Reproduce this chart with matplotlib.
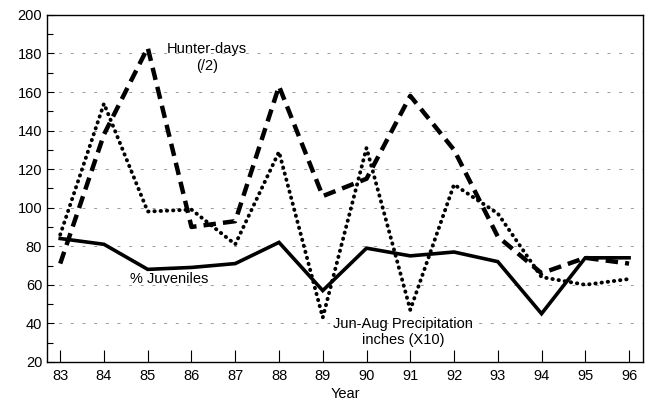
import numpy as np
import matplotlib.pyplot as plt

plt.rcParams['font.family'] = ['Liberation Sans', 'DejaVu Sans']

years = [83, 84, 85, 86, 87, 88, 89, 90, 91, 92, 93, 94, 95, 96]
juveniles = [84, 81, 68, 69, 71, 82, 57, 79, 75, 77, 72, 45, 74, 74]
hunter_days = [71, 138, 183, 90, 93, 163, 106, 115, 158, 130, 85, 66, 74, 71]
precip = [86, 154, 98, 99, 81, 129, 43, 131, 47, 112, 97, 64, 60, 63]
year_labels = [str(y) for y in years]

fig = plt.figure(figsize=(6.45, 4.03), dpi=100)
ax = fig.add_axes([0.073, 0.102, 0.924, 0.861])

for yv in range(40, 200, 20):
    ax.axhline(yv, color='#999999', lw=0.7, ls=(0, (3, 9)), zorder=0)

ax.plot(years, juveniles, color='black', lw=2.6, solid_joinstyle='miter')
ax.plot(years, hunter_days, color='black', lw=3.2, ls=(0, (2.8, 1.6)))
ax.plot(years, precip, color='black', lw=2.8, ls=(0, (0.1, 1.5)), dash_capstyle='round')

ax.text(86.35, 186, 'Hunter-days\n(/2)', ha='center', va='top', fontsize=10.5, linespacing=1.3)
ax.text(85.5, 63, '% Juveniles', ha='center', va='center', fontsize=10.5)
ax.text(90.83, 35.5, 'Jun-Aug Precipitation\ninches (X10)', ha='center', va='center', fontsize=10.5, linespacing=1.25)

ax.set_xlim(82.7, 96.32)
ax.set_ylim(20, 200)
ax.set_xticks(years)
ax.set_xticklabels(year_labels)
ax.set_yticks(range(20, 201, 20))
ax.set_yticks(range(30, 200, 20), minor=True)
ax.tick_params(axis='both', labelsize=10.5, direction='in', width=0.8)
ax.tick_params(axis='x', length=9, pad=5)
ax.tick_params(axis='y', length=5)
ax.tick_params(axis='y', which='minor', direction='in', length=4, width=0.8)
ax.set_xlabel('Year', fontsize=10.5, labelpad=3)
for s in ax.spines.values():
    s.set_linewidth(1.0)

fig.savefig('out.png', dpi=100)
